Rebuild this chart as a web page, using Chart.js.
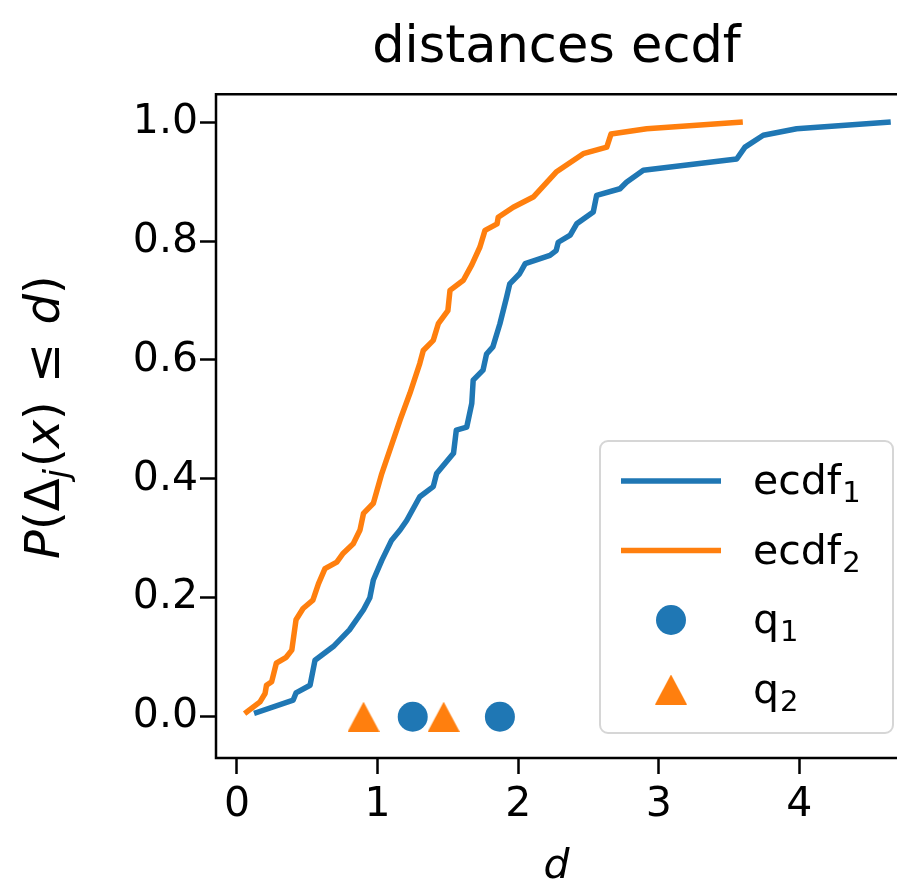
<!DOCTYPE html>
<html>
<head>
<meta charset="utf-8">
<script src="https://cdn.jsdelivr.net/npm/chart.js@4.4.0/dist/chart.umd.min.js"></script>
<style>
  body { margin: 0; background: #fff; overflow: hidden; }
</style>
</head>
<body>
<canvas id="c" width="897" height="889"></canvas>
<script>
// ecdf of distances
const ecdf1X = [0.14, 0.40, 0.42, 0.52, 0.555, 0.685, 0.80, 0.90, 0.945, 0.97, 1.03, 1.10, 1.16, 1.207, 1.30, 1.396, 1.42, 1.54, 1.56, 1.634, 1.67, 1.68, 1.75, 1.775, 1.82, 1.87, 1.918, 1.94, 2.01, 2.05, 2.226, 2.27, 2.285, 2.37, 2.416, 2.534, 2.558, 2.724, 2.77, 2.89, 3.554, 3.613, 3.743, 3.98, 4.63];
const ecdf1Y = [0.007, 0.028, 0.04, 0.053, 0.095, 0.118, 0.146, 0.18, 0.20, 0.23, 0.263, 0.297, 0.314, 0.33, 0.37, 0.387, 0.409, 0.443, 0.482, 0.487, 0.527, 0.566, 0.583, 0.61, 0.622, 0.661, 0.706, 0.728, 0.745, 0.762, 0.776, 0.784, 0.798, 0.81, 0.829, 0.849, 0.877, 0.888, 0.899, 0.919, 0.938, 0.958, 0.978, 0.989, 1.0];
const ecdf2X = [0.07, 0.164, 0.20, 0.21, 0.247, 0.28, 0.35, 0.39, 0.42, 0.47, 0.54, 0.58, 0.626, 0.71, 0.756, 0.827, 0.875, 0.90, 0.97, 1.03, 1.16, 1.23, 1.30, 1.325, 1.396, 1.432, 1.50, 1.515, 1.61, 1.67, 1.728, 1.764, 1.85, 1.858, 1.965, 2.107, 2.27, 2.463, 2.63, 2.66, 2.914, 3.578];
const ecdf2Y = [0.008, 0.025, 0.039, 0.053, 0.059, 0.09, 0.10, 0.112, 0.163, 0.182, 0.196, 0.224, 0.249, 0.26, 0.275, 0.291, 0.314, 0.342, 0.359, 0.409, 0.499, 0.544, 0.594, 0.616, 0.633, 0.661, 0.683, 0.717, 0.734, 0.76, 0.79, 0.818, 0.829, 0.84, 0.857, 0.874, 0.916, 0.947, 0.958, 0.98, 0.989, 1.0];
const q1X = [1.25, 1.87];
const q2X = [0.90, 1.47];
const xTicks = [0, 1, 2, 3, 4];
const yTicks = [0.0, 0.2, 0.4, 0.6, 0.8, 1.0];
// label base + subscript
const seriesNames = [['ecdf', '1'], ['ecdf', '2'], ['q', '1'], ['q', '2']];

const blue = '#1f77b4';
const orange = '#ff7f0e';
const FAM = "'DejaVu Sans'";

function pts(xs, ys) {
    return xs.map((x, i) => ({x: x, y: ys[i]}));
}

// matplotlib style '^' marker
function triangleMarker(w, h, color) {
    const c = document.createElement('canvas');
    c.width = w;
    c.height = h;
    const g = c.getContext('2d');
    g.fillStyle = color;
    g.beginPath();
    g.moveTo(w / 2, 0);
    g.lineTo(w, h);
    g.lineTo(0, h);
    g.closePath();
    g.fill();
    return c;
}

const frame = {
    id: 'frame',
    afterDatasetsDraw(chart) {
        const ctx = chart.ctx, a = chart.chartArea;
        ctx.save();
        ctx.strokeStyle = '#000';
        ctx.lineWidth = 2.5;
        ctx.lineCap = 'square';
        ctx.beginPath();
        ctx.moveTo(a.right + 5, a.top);
        ctx.lineTo(a.left, a.top);
        ctx.lineTo(a.left, a.bottom);
        ctx.lineTo(a.right + 5, a.bottom);
        ctx.stroke();
        ctx.restore();
    }
};

const innerLegend = {
    id: 'innerLegend',
    afterDatasetsDraw(chart) {
        const ctx = chart.ctx, a = chart.chartArea;
        const w = 293, h = 292;
        const x0 = a.right - 4 - w, y0 = a.bottom - 25 - h;
        ctx.save();
        ctx.beginPath();
        ctx.roundRect(x0, y0, w, h, 8);
        ctx.fillStyle = 'rgba(255,255,255,0.8)';
        ctx.fill();
        ctx.strokeStyle = 'rgba(204,204,204,0.8)';
        ctx.lineWidth = 2;
        ctx.stroke();
        chart.data.datasets.forEach((ds, i) => {
            const y = y0 + 40 + i * 69.5;
            const hx = x0 + 21;
            if (ds.showLine) {
                ctx.strokeStyle = ds.borderColor;
                ctx.lineWidth = ds.borderWidth;
                ctx.lineCap = 'butt';
                ctx.beginPath();
                ctx.moveTo(hx, y);
                ctx.lineTo(hx + 100, y);
                ctx.stroke();
            } else {
                ctx.fillStyle = ds.backgroundColor;
                Chart.helpers.drawPoint(ctx, {pointStyle: ds.pointStyle, radius: ds.pointRadius, rotation: 0, borderWidth: 0}, hx + 50, y);
            }
            const name = seriesNames[i];
            const tx = x0 + 153;
            ctx.fillStyle = '#000';
            ctx.textAlign = 'left';
            ctx.textBaseline = 'alphabetic';
            ctx.font = '41px ' + FAM;
            ctx.fillText(name[0], tx, y + 13);
            const bw = ctx.measureText(name[0]).width;
            ctx.font = '29px ' + FAM;
            ctx.fillText(name[1], tx + bw + 1, y + 21);
        });
        ctx.restore();
    }
};

// y label P(Δ_j(x) ≤ d) in mathtext style
const yTitle = {
    id: 'yTitle',
    afterDraw(chart) {
        const ctx = chart.ctx, a = chart.chartArea;
        const size = 48;
        // text, style, scale, baseline shift, extra space after
        const segs = [
            ['P', 'italic', 1, 0, 0], ['(', 'normal', 1, 0, 0], ['\u0394', 'normal', 1, 0, 0],
            ['j', 'italic', 0.7, 9, 2], ['(', 'normal', 1, 0, 0], ['x', 'italic', 1, 0, 0],
            [')', 'normal', 1, 0, 3], [' \u2264 ', 'normal', 1, 0, 3], ['d', 'italic', 1, 0, 0],
            [')', 'normal', 1, 0, 0]
        ];
        ctx.save();
        let total = 0;
        const widths = segs.map(s => {
            ctx.font = s[1] + ' ' + Math.round(size * s[2]) + 'px ' + FAM;
            const wd = ctx.measureText(s[0]).width + s[4];
            total += wd;
            return wd;
        });
        ctx.translate(59, (a.top + a.bottom) / 2 - 9);
        ctx.rotate(-Math.PI / 2);
        ctx.fillStyle = '#000';
        ctx.textAlign = 'left';
        ctx.textBaseline = 'alphabetic';
        let x = -total / 2;
        segs.forEach((s, i) => {
            ctx.font = s[1] + ' ' + Math.round(size * s[2]) + 'px ' + FAM;
            ctx.fillText(s[0], x, s[3]);
            x += widths[i];
        });
        ctx.restore();
    }
};

const tickFont = {family: FAM, size: 41};

new Chart(document.getElementById('c'), {
    type: 'scatter',
    data: {
        datasets: [
            {
                label: 'ecdf1',
                data: pts(ecdf1X, ecdf1Y),
                showLine: true,
                borderColor: blue,
                backgroundColor: blue,
                borderWidth: 5.5,
                pointRadius: 0,
                tension: 0,
                borderJoinStyle: 'round',
                borderCapStyle: 'square',
                order: 4
            },
            {
                label: 'ecdf2',
                data: pts(ecdf2X, ecdf2Y),
                showLine: true,
                borderColor: orange,
                backgroundColor: orange,
                borderWidth: 5.5,
                pointRadius: 0,
                tension: 0,
                borderJoinStyle: 'round',
                borderCapStyle: 'square',
                order: 3
            },
            {
                label: 'q1',
                data: q1X.map(x => ({x: x, y: 0})),
                backgroundColor: blue,
                borderWidth: 0,
                pointStyle: 'circle',
                pointRadius: 15,
                order: 2
            },
            {
                label: 'q2',
                data: q2X.map(x => ({x: x, y: 0})),
                backgroundColor: orange,
                borderWidth: 0,
                pointStyle: triangleMarker(32, 30, orange),
                pointRadius: 15,
                order: 1
            }
        ]
    },
    options: {
        responsive: false,
        animation: false,
        events: [],
        layout: {padding: 0, autoPadding: false},
        plugins: {
            legend: {display: false},
            tooltip: {enabled: false},
            title: {
                display: true,
                fullSize: false,
                text: 'distances ecdf',
                color: '#000',
                font: {family: FAM, size: 51, weight: 'normal'},
                padding: {top: 18, bottom: 15}
            }
        },
        scales: {
            x: {
                type: 'linear',
                min: -0.149,
                max: 4.694,
                afterBuildTicks: s => { s.ticks = xTicks.map(v => ({value: v})); },
                afterFit: s => { s.height = 131; s.paddingLeft = 0; s.paddingRight = 0; },
                border: {display: false},
                grid: {drawOnChartArea: false, drawTicks: true, tickLength: 16, tickWidth: 2.5, tickColor: '#000'},
                ticks: {font: tickFont, color: '#000', padding: 7, maxRotation: 0, autoSkip: false, callback: v => String(v)},
                title: {display: true, text: 'd', color: '#000', font: {family: FAM, size: 41, style: 'italic'}, padding: {top: 0, bottom: -3}}
            },
            y: {
                type: 'linear',
                min: -0.0694,
                max: 1.047,
                afterBuildTicks: s => { s.ticks = yTicks.map(v => ({value: v})); },
                afterFit: s => { s.width = 216; s.paddingTop = 0; s.paddingBottom = 0; },
                border: {display: false},
                grid: {drawOnChartArea: false, drawTicks: true, tickLength: 16, tickWidth: 2.5, tickColor: '#000'},
                ticks: {font: tickFont, color: '#000', padding: 2, autoSkip: false, callback: v => v.toFixed(1)}
            }
        }
    },
    plugins: [frame, innerLegend, yTitle]
});
</script>
</body>
</html>
